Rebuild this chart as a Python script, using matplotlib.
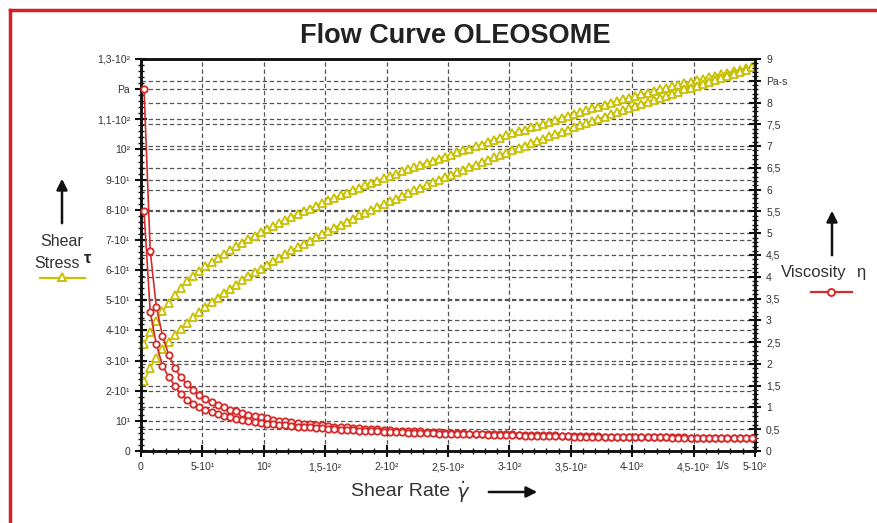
import matplotlib
matplotlib.use("Agg")
import matplotlib.pyplot as plt
import matplotlib.transforms as mtransforms
from matplotlib.lines import Line2D
from matplotlib.patches import FancyArrowPatch
from matplotlib.ticker import MultipleLocator

plt.rcParams['font.family'] = ['Liberation Sans', 'DejaVu Sans']

# shear rate (1/s)
shear_rate = [2.5, 7.5, 12.5, 17.5, 22.5, 27.5, 32.5, 37.5, 42.5, 47.5,
              52.5, 57.5, 62.5, 67.5, 72.5, 77.5, 82.5, 87.5, 92.5, 97.5,
              102.5, 107.5, 112.5, 117.5, 122.5, 127.5, 132.5, 137.5, 142.5, 147.5,
              152.5, 157.5, 162.5, 167.5, 172.5, 177.5, 182.5, 187.5, 192.5, 197.5,
              202.5, 207.5, 212.5, 217.5, 222.5, 227.5, 232.5, 237.5, 242.5, 247.5,
              252.5, 257.5, 262.5, 267.5, 272.5, 277.5, 282.5, 287.5, 292.5, 297.5,
              302.5, 307.5, 312.5, 317.5, 322.5, 327.5, 332.5, 337.5, 342.5, 347.5,
              352.5, 357.5, 362.5, 367.5, 372.5, 377.5, 382.5, 387.5, 392.5, 397.5,
              402.5, 407.5, 412.5, 417.5, 422.5, 427.5, 432.5, 437.5, 442.5, 447.5,
              452.5, 457.5, 462.5, 467.5, 472.5, 477.5, 482.5, 487.5, 492.5, 497.5]

# shear stress (Pa), upper and lower branch
stress_up = [35.5, 39.5, 43.0, 46.3, 49.0, 51.6, 54.0, 56.3, 58.0, 59.6,
             61.2, 62.6, 64.0, 65.3, 66.6, 67.9, 69.1, 70.2, 71.4, 72.5,
             73.5, 74.6, 75.6, 76.6, 77.6, 78.6, 79.5, 80.4, 81.3, 82.2,
             83.1, 84.0, 84.8, 85.7, 86.5, 87.3, 88.1, 88.9, 89.7, 90.4,
             91.2, 91.9, 92.7, 93.4, 94.1, 94.9, 95.6, 96.3, 97.0, 97.6,
             98.3, 99.0, 99.7, 100.3, 101.0, 101.6, 102.6, 103.3, 103.9, 104.7,
             105.3, 106.0, 106.6, 107.3, 107.9, 108.6, 109.2, 109.9, 110.5, 111.2,
             111.7, 112.4, 113.0, 113.6, 114.2, 114.8, 115.4, 116.0, 116.6, 117.2,
             117.8, 118.3, 118.8, 119.4, 119.9, 120.4, 120.9, 121.4, 122.0, 122.5,
             123.0, 123.5, 124.0, 124.5, 125.0, 125.5, 126.0, 126.4, 126.9, 127.4]
stress_down = [23.1, 27.6, 31.0, 33.7, 36.2, 38.4, 40.5, 42.5, 44.3, 46.0,
               47.7, 49.3, 50.9, 52.4, 53.8, 55.2, 56.6, 57.9, 59.2, 60.5,
               61.7, 62.9, 64.1, 65.3, 66.5, 67.6, 68.7, 69.8, 70.9, 72.0,
               73.0, 74.1, 75.1, 76.1, 77.1, 78.1, 79.0, 80.0, 80.9, 81.9,
               82.8, 83.7, 84.6, 85.6, 86.4, 87.3, 88.2, 89.1, 89.9, 90.8,
               91.6, 92.5, 93.3, 94.1, 95.0, 95.8, 96.6, 97.4, 98.2, 98.9,
               99.7, 100.5, 101.3, 102.0, 102.8, 103.6, 104.3, 105.1, 105.9, 106.6,
               107.3, 108.0, 108.8, 109.5, 110.2, 110.9, 111.6, 112.3, 113.1, 113.7,
               114.4, 115.1, 115.8, 116.5, 117.2, 117.8, 118.5, 119.2, 119.9, 120.5,
               121.2, 121.8, 122.5, 123.1, 123.8, 124.4, 125.0, 125.7, 126.4, 127.3]

# viscosity (Pa-s), upper and lower branch
visc_up = [8.3, 4.6, 3.3, 2.65, 2.21, 1.91, 1.69, 1.53, 1.39, 1.28,
           1.20, 1.12, 1.05, 1.00, 0.95, 0.91, 0.87, 0.83, 0.80, 0.77,
           0.75, 0.72, 0.70, 0.68, 0.66, 0.65, 0.63, 0.61, 0.60, 0.59,
           0.57, 0.56, 0.55, 0.54, 0.53, 0.52, 0.51, 0.50, 0.50, 0.49,
           0.48, 0.47, 0.47, 0.46, 0.45, 0.45, 0.44, 0.44, 0.43, 0.42,
           0.42, 0.41, 0.41, 0.40, 0.40, 0.40, 0.39, 0.39, 0.39, 0.38,
           0.38, 0.37, 0.37, 0.37, 0.36, 0.36, 0.36, 0.36, 0.35, 0.35,
           0.35, 0.34, 0.34, 0.34, 0.34, 0.33, 0.33, 0.33, 0.33, 0.32,
           0.32, 0.32, 0.32, 0.32, 0.31, 0.31, 0.31, 0.31, 0.31, 0.30,
           0.30, 0.30, 0.30, 0.30, 0.29, 0.29, 0.29, 0.29, 0.29, 0.29]
visc_down = [5.5, 3.2, 2.45, 1.96, 1.70, 1.50, 1.30, 1.17, 1.08, 1.00,
             0.94, 0.89, 0.84, 0.81, 0.77, 0.74, 0.72, 0.69, 0.67, 0.65,
             0.63, 0.62, 0.60, 0.59, 0.57, 0.56, 0.55, 0.54, 0.53, 0.52,
             0.51, 0.50, 0.49, 0.48, 0.48, 0.47, 0.46, 0.46, 0.45, 0.44,
             0.44, 0.43, 0.43, 0.42, 0.42, 0.41, 0.41, 0.41, 0.40, 0.40,
             0.39, 0.39, 0.39, 0.38, 0.38, 0.38, 0.37, 0.37, 0.37, 0.36,
             0.36, 0.36, 0.35, 0.35, 0.35, 0.35, 0.34, 0.34, 0.34, 0.34,
             0.33, 0.33, 0.33, 0.33, 0.33, 0.32, 0.32, 0.32, 0.32, 0.32,
             0.31, 0.31, 0.31, 0.31, 0.31, 0.31, 0.30, 0.30, 0.30, 0.30,
             0.30, 0.30, 0.30, 0.29, 0.29, 0.29, 0.29, 0.29, 0.29, 0.29]

x_ticks = [0, 50, 100, 150, 200, 250, 300, 350, 400, 450, 500]
x_labels = ['0', '5-10¹', '10²', '1,5-10²', '2-10²', '2,5-10²', '3-10²',
            '3,5-10²', '4-10²', '4,5-10²', '5-10²']
left_ticks = [0, 10, 20, 30, 40, 50, 60, 70, 80, 90, 100, 110, 120, 130]
left_labels = ['0', '10¹', '2-10¹', '3-10¹', '4-10¹', '5-10¹', '6-10¹', '7-10¹',
               '8-10¹', '9-10¹', '10²', '1,1-10²', 'Pa', '1,3-10²']
right_ticks = [0, 0.5, 1, 1.5, 2, 2.5, 3, 3.5, 4, 4.5, 5, 5.5, 6, 6.5, 7, 7.5,
               8, 8.5, 9]
right_labels = ['0', '0,5', '1', '1,5', '2', '2,5', '3', '3,5', '4', '4,5', '5',
                '5,5', '6', '6,5', '7', '7,5', '8', 'Pa-s', '9']

yellow = '#c8c000'
red = '#d42a2a'
grid_color = '#555555'
W, H = 878, 523


def fx(px):
    return px / W


def fy(py):
    return 1 - py / H


fig = plt.figure(figsize=(8.78, 5.23), dpi=100, facecolor='white')
ax = fig.add_axes([fx(141), fy(451), (755 - 141) / W, (451 - 59) / H])
ax2 = ax.twinx()

ax.set_xlim(0, 500)
ax.set_ylim(0, 130)
ax2.set_ylim(0, 9)

# grid: verticals + left ticks on ax, right ticks also drawn on ax (below data)
dash = (0, (3.5, 2.2))
ax.grid(True, which='major', color=grid_color, linestyle=dash, linewidth=0.9)
ax.set_axisbelow(True)
blend = mtransforms.blended_transform_factory(ax.transAxes, ax2.transData)
for v in right_ticks[1:-1]:
    ax.plot([0, 1], [v, v], transform=blend, color=grid_color, linestyle=dash,
            linewidth=0.9, zorder=0.5)

ax.plot(shear_rate, stress_up, color=yellow, lw=1.2, marker='^', ms=5.5,
        mfc='white', mec=yellow, mew=1.3, clip_on=False, zorder=3)
ax.plot(shear_rate, stress_down, color=yellow, lw=1.2, marker='^', ms=5.5,
        mfc='white', mec=yellow, mew=1.3, clip_on=False, zorder=3)
ax2.plot(shear_rate, visc_up, color=red, lw=1.2, marker='o', ms=4.6,
         mfc='white', mec=red, mew=1.3, clip_on=False, zorder=4)
ax2.plot(shear_rate, visc_down, color=red, lw=1.2, marker='o', ms=4.6,
         mfc='white', mec=red, mew=1.3, clip_on=False, zorder=4)

ax.set_xticks(x_ticks)
ax.set_xticklabels(x_labels)
ax.set_yticks(left_ticks)
ax.set_yticklabels(left_labels)
ax2.set_yticks(right_ticks)
ax2.set_yticklabels(right_labels)
ax.xaxis.set_minor_locator(MultipleLocator(10))
ax.yaxis.set_minor_locator(MultipleLocator(2))
ax2.yaxis.set_minor_locator(MultipleLocator(0.1))

for a in (ax, ax2):
    a.tick_params(which='major', direction='inout', length=8, width=1.5,
                  labelsize=7.5, labelcolor='#333333', color='#111111')
    a.tick_params(which='minor', direction='inout', length=4, width=1.0,
                  color='#111111')
    for s in a.spines.values():
        s.set_linewidth(1.8)
        s.set_color('#111111')
ax.tick_params(axis='x', pad=4)
ax.tick_params(axis='y', pad=4)
ax2.tick_params(axis='y', pad=4)

fig.text(fx(722), fy(466), '1/s', fontsize=7.5, color='#333333',
         ha='center', va='center')

# title
fig.text(fx(455), fy(36), 'Flow Curve OLEOSOME', fontsize=19.5,
         fontweight='bold', color='#222222', ha='center', va='center')

# left annotation: shear stress
fig.add_artist(FancyArrowPatch((fx(62), fy(226)), (fx(62), fy(176)),
                               transform=fig.transFigure, arrowstyle='-|>',
                               mutation_scale=16, lw=1.8, color='#111111'))
fig.text(fx(62), fy(241), 'Shear', fontsize=11.5, color='#333333',
         ha='center', va='center')
fig.text(fx(57), fy(263), 'Stress', fontsize=11.5, color='#333333',
         ha='center', va='center')
fig.text(fx(88), fy(258), 'τ', fontsize=12, fontweight='bold',
         color='#222222', ha='center', va='center')
fig.add_artist(Line2D([fx(40), fx(85)], [fy(278), fy(278)],
                      transform=fig.transFigure, color=yellow, lw=1.6))
fig.add_artist(Line2D([fx(62)], [fy(277)], transform=fig.transFigure,
                      marker='^', ms=6, mfc='white', mec=yellow, mew=1.4))

# right annotation: viscosity
fig.add_artist(FancyArrowPatch((fx(832), fy(258)), (fx(832), fy(208)),
                               transform=fig.transFigure, arrowstyle='-|>',
                               mutation_scale=16, lw=1.8, color='#111111'))
fig.text(fx(781), fy(273), 'Viscosity', fontsize=12, color='#333333',
         ha='left', va='center')
fig.text(fx(861), fy(273), 'η', fontsize=12, color='#333333',
         ha='center', va='center')
fig.add_artist(Line2D([fx(811), fx(852)], [fy(292), fy(292)],
                      transform=fig.transFigure, color=red, lw=1.6))
fig.add_artist(Line2D([fx(831)], [fy(292)], transform=fig.transFigure,
                      marker='o', ms=5, mfc='white', mec=red, mew=1.4))

# bottom annotation: shear rate
fig.text(fx(351), fy(492), 'Shear Rate', fontsize=14, color='#333333',
         ha='left', va='center')
fig.text(fx(463), fy(492), r'$\dot{\gamma}$', fontsize=14, color='#333333',
         ha='center', va='center')
fig.add_artist(FancyArrowPatch((fx(486), fy(492)), (fx(540), fy(492)),
                               transform=fig.transFigure, arrowstyle='-|>',
                               mutation_scale=16, lw=1.8, color='#111111'))

# red frame
fig.add_artist(Line2D([fx(10), fx(10)], [fy(10), 0], transform=fig.transFigure,
                      color='#d81e28', lw=2.5))
fig.add_artist(Line2D([fx(10), 1], [fy(10), fy(10)], transform=fig.transFigure,
                      color='#d81e28', lw=2.5))

fig.savefig('out.png', dpi=100, facecolor='white')
